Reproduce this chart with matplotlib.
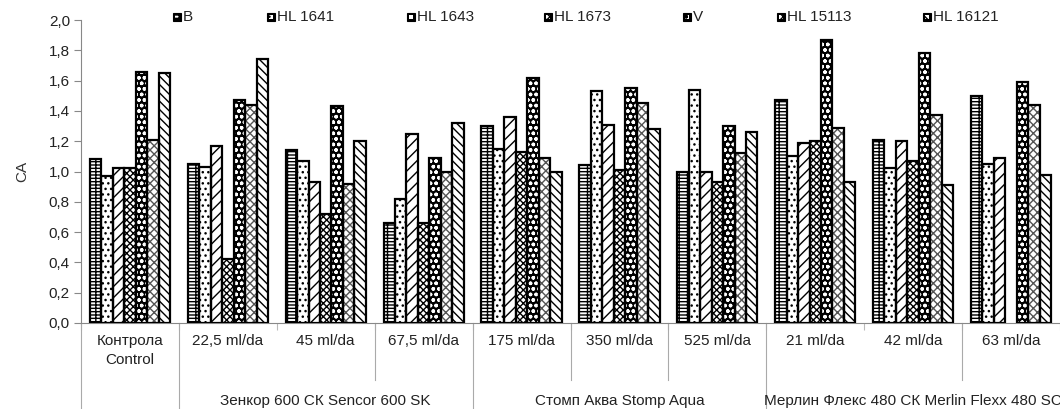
import numpy as np
import matplotlib
matplotlib.use("Agg")
import matplotlib.pyplot as plt
from matplotlib.patches import Rectangle
from matplotlib.transforms import blended_transform_factory
from matplotlib import font_manager

# ---- data -------------------------------------------------------------
categories = ["Контрола\nControl", "22,5 ml/da", "45 ml/da", "67,5 ml/da",
              "175 ml/da", "350 ml/da", "525 ml/da",
              "21 ml/da", "42 ml/da", "63 ml/da"]
groups = ["Зенкор 600 СК Sencor 600 SK",
          "Стомп Аква Stomp Aqua",
          "Мерлин Флекс 480 СК Merlin Flexx 480 SC"]
group_first = [1, 4, 7]
group_last = [3, 6, 9]

series_names = ["B", "HL 1641", "HL 1643", "HL 1673", "V", "HL 15113", "HL 16121"]
b_vals = [1.08, 1.05, 1.14, 0.66, 1.30, 1.04, 1.00, 1.47, 1.21, 1.50]
hl1641 = [0.97, 1.03, 1.07, 0.82, 1.15, 1.53, 1.54, 1.10, 1.02, 1.05]
hl1643 = [1.02, 1.17, 0.93, 1.25, 1.36, 1.31, 1.00, 1.19, 1.20, 1.09]
hl1673 = [1.02, 0.42, 0.72, 0.66, 1.13, 1.01, 0.93, 1.20, 1.07, np.nan]
v_vals = [1.66, 1.47, 1.43, 1.09, 1.62, 1.55, 1.30, 1.87, 1.78, 1.59]
hl15113 = [1.21, 1.44, 0.92, 1.00, 1.09, 1.45, 1.12, 1.29, 1.37, 1.44]
hl16121 = [1.65, 1.74, 1.20, 1.32, 1.00, 1.28, 1.26, 0.93, 0.91, 0.98]
y_ticks = [0.0, 0.2, 0.4, 0.6, 0.8, 1.0, 1.2, 1.4, 1.6, 1.8, 2.0]
y_label = "CA"

series_values = [b_vals, hl1641, hl1643, hl1673, v_vals, hl15113, hl16121]

# fill colour, hatch pattern, hatch colour for each series
styles = [
    ("white", "-----||", "black"),
    ("white", "...", "black"),
    ("white", "///", "black"),
    ("white", "xxxxx", "black"),
    ("black", "ooo", "white"),
    ("white", "xxxx", "#555555"),
    ("white", "\\\\\\\\", "black"),
]

# ---- fonts ------------------------------------------------------------
available = {f.name for f in font_manager.fontManager.ttflist}
family = "Liberation Sans" if "Liberation Sans" in available else "DejaVu Sans"
plt.rcParams["font.family"] = [family, "DejaVu Sans"]
plt.rcParams["font.size"] = 11
plt.rcParams["hatch.linewidth"] = 1.0

W, H = 1060, 409
fig = plt.figure(figsize=(W / 100, H / 100), dpi=100)
ax_left, ax_right, ax_top, ax_bottom = 81, 1060, 20, 323
ax = fig.add_axes([ax_left / W, (H - ax_bottom) / H,
                   (ax_right - ax_left) / W, (ax_bottom - ax_top) / H])

x = np.arange(len(categories))
n = len(series_names)
width = 0.82 / n
for i, (vals, (fc, hatch, hc)) in enumerate(zip(series_values, styles)):
    pos = x + (i - (n - 1) / 2) * width
    ax.bar(pos, vals, width, facecolor=fc, hatch=hatch, edgecolor=hc,
           linewidth=0, zorder=2)
    ax.bar(pos, vals, width, fill=False, edgecolor="black",
           linewidth=1.6, zorder=3)

ax.set_xlim(-0.5, len(categories) - 0.5)
ax.set_ylim(0, 2.0)
ax.set_yticks(y_ticks)
ax.set_yticklabels([f"{t:.1f}".replace(".", ",") for t in y_ticks])
ax.tick_params(axis="y", length=5, width=0.8, color="#888888", pad=3,
               labelcolor="#222222")

# category boundaries as small ticks on the x axis
ax.set_xticks(np.arange(-0.5, len(categories), 1.0))
ax.set_xticklabels([])
ax.tick_params(axis="x", length=5, width=0.8, color="#bbbbbb")

for side in ("top", "right"):
    ax.spines[side].set_visible(False)
ax.spines["left"].set_color("#888888")
ax.spines["bottom"].set_color("#888888")
ax.spines["left"].set_linewidth(0.8)
ax.spines["bottom"].set_linewidth(0.8)

ax.set_ylabel(y_label, labelpad=14, color="#333333")

trans = blended_transform_factory(ax.transData, ax.transAxes)
px = 1.0 / (ax_bottom - ax_top)  # one pixel in axes-height units

# first-level labels
for xi, lab in zip(x, categories):
    ax.text(xi, -11 * px, lab, transform=trans, ha="center", va="top",
            color="#222222", linespacing=1.45)

# separators: full height between groups, shorter between sub-columns
full_sep = [-0.5, 0.5, 3.5, 6.5]
short_sep = [2.5, 4.5, 5.5, 8.5]
for s in full_sep:
    ax.plot([s, s], [0, -86 * px], transform=trans, color="#aaaaaa",
            lw=0.8, clip_on=False)
for s in short_sep:
    ax.plot([s, s], [0, -57 * px], transform=trans, color="#aaaaaa",
            lw=0.8, clip_on=False)

# group labels
for g, a, b in zip(groups, group_first, group_last):
    ax.text((a + b) / 2, -78 * px, g, transform=trans, ha="center",
            va="center", color="#222222")

# legend across the top
legend_x = [173, 267, 407, 544, 683, 777, 923]
sq = 8
for lx, name, (fc, hatch, hc) in zip(legend_x, series_names, styles):
    fig.patches.append(Rectangle((lx / W, (H - 21) / H), sq / W, sq / H,
                                 transform=fig.transFigure, facecolor="black",
                                 edgecolor="black", lw=0.8))
    fig.patches.append(Rectangle(((lx + 2) / W, (H - 19) / H), 4 / W, 4 / H,
                                 transform=fig.transFigure, facecolor="white",
                                 hatch=hatch, edgecolor="black", lw=0))
    fig.text((lx + sq + 2) / W, (H - 17) / H, name, ha="left", va="center",
             color="#222222")

fig.savefig("out.png", dpi=100)
